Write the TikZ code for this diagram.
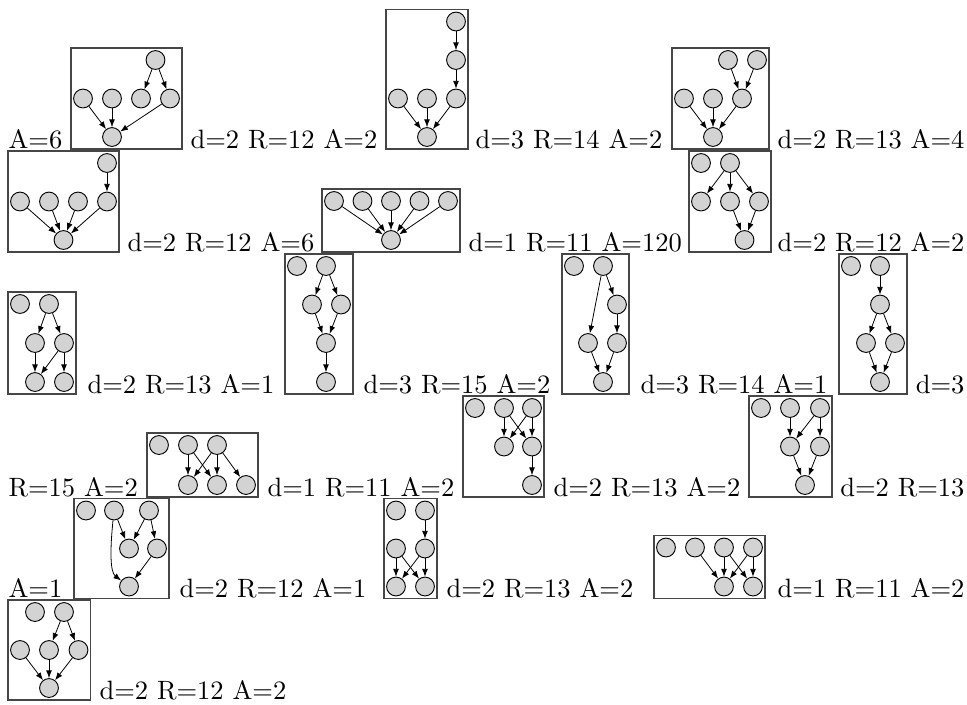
\documentclass[tikz,border=0pt]{standalone}
\usetikzlibrary{arrows.meta}
\definecolor{nodegray}{RGB}{211,211,211}
\definecolor{framegray}{RGB}{70,70,70}
\begin{document}
\begin{tikzpicture}[x=0.377pt,y=-0.377pt,
  nd/.style={circle,draw=black,fill=nodegray,line width=0.35pt,minimum size=7.1pt,inner sep=0pt},
  arr/.style={-{Latex[length=2.9pt,width=2.2pt]},line width=0.3pt},
  frame/.style={draw=framegray,line width=0.4pt},
  lbl/.style={inner sep=0pt,anchor=base west,font=\fontsize{10}{12}\selectfont},
  lble/.style={inner sep=0pt,anchor=base east,font=\fontsize{10}{12}\selectfont}]
\useasboundingbox (0,0) rectangle (967,704);
% ---------- row 1 ----------
\node[lbl] (t1) at (8,148.5) {A=6};
\draw[frame] (71,48) rectangle (182,149);
\node[nd] (b1a) at (155.5,60) {};
\node[nd] (b1b) at (83,98.5) {};
\node[nd] (b1c) at (112,98.5) {};
\node[nd] (b1d) at (141,98.5) {};
\node[nd] (b1e) at (170,98.5) {};
\node[nd] (b1f) at (112,137) {};
\draw[arr] (b1a) -- (b1d);
\draw[arr] (b1a) -- (b1e);
\draw[arr] (b1b) -- (b1f);
\draw[arr] (b1c) -- (b1f);
\draw[arr] (b1e) -- (b1f);
\node[lbl] (t2) at (190,148.5) {d=2 R=12 A=2};
\draw[frame] (386,9.5) rectangle (468,149);
\node[nd] (b2a) at (456,21.5) {};
\node[nd] (b2b) at (456,60) {};
\node[nd] (b2c) at (456,98.5) {};
\node[nd] (b2d) at (398,98.5) {};
\node[nd] (b2e) at (427,98.5) {};
\node[nd] (b2f) at (427,137) {};
\draw[arr] (b2a) -- (b2b);
\draw[arr] (b2b) -- (b2c);
\draw[arr] (b2d) -- (b2f);
\draw[arr] (b2e) -- (b2f);
\draw[arr] (b2c) -- (b2f);
\node[lbl] (t3) at (475,148.5) {d=3 R=14 A=2};
\draw[frame] (672,48) rectangle (769,149);
\node[nd] (b3a) at (728,60) {};
\node[nd] (b3b) at (757,60) {};
\node[nd] (b3c) at (684,98.5) {};
\node[nd] (b3d) at (713,98.5) {};
\node[nd] (b3e) at (742,98.5) {};
\node[nd] (b3f) at (713,137) {};
\draw[arr] (b3a) -- (b3e);
\draw[arr] (b3b) -- (b3e);
\draw[arr] (b3c) -- (b3f);
\draw[arr] (b3d) -- (b3f);
\draw[arr] (b3e) -- (b3f);
\node[lble] (t4) at (965,148.5) {d=2 R=13 A=4};
% ---------- row 2 ----------
\draw[frame] (8,151) rectangle (119,252);
\node[nd] (b4a) at (107,163) {};
\node[nd] (b4b) at (20,201.5) {};
\node[nd] (b4c) at (49,201.5) {};
\node[nd] (b4d) at (78,201.5) {};
\node[nd] (b4e) at (107,201.5) {};
\node[nd] (b4f) at (63.5,240) {};
\draw[arr] (b4a) -- (b4e);
\draw[arr] (b4b) -- (b4f);
\draw[arr] (b4c) -- (b4f);
\draw[arr] (b4d) -- (b4f);
\draw[arr] (b4e) -- (b4f);
\node[lbl] (t5) at (127,251) {d=2 R=12 A=6};
\draw[frame] (322,189) rectangle (460,252);
\node[nd] (b5a) at (334,201) {};
\node[nd] (b5b) at (362.5,201) {};
\node[nd] (b5c) at (391,201) {};
\node[nd] (b5d) at (419.5,201) {};
\node[nd] (b5e) at (448,201) {};
\node[nd] (b5f) at (391,240) {};
\draw[arr] (b5a) -- (b5f);
\draw[arr] (b5b) -- (b5f);
\draw[arr] (b5c) -- (b5f);
\draw[arr] (b5d) -- (b5f);
\draw[arr] (b5e) -- (b5f);
\node[lbl] (t6) at (468,251) {d=1 R=11 A=120};
\draw[frame] (689,151) rectangle (771,252);
\node[nd] (b6a) at (701,163) {};
\node[nd] (b6b) at (730,163) {};
\node[nd] (b6c) at (701,201.5) {};
\node[nd] (b6d) at (730,201.5) {};
\node[nd] (b6e) at (759,201.5) {};
\node[nd] (b6f) at (744.5,240) {};
\draw[arr] (b6b) -- (b6c);
\draw[arr] (b6b) -- (b6d);
\draw[arr] (b6b) -- (b6e);
\draw[arr] (b6d) -- (b6f);
\draw[arr] (b6e) -- (b6f);
\node[lble] (t7) at (965,251) {d=2 R=12 A=2};
% ---------- row 3 ----------
\draw[frame] (8,292) rectangle (76,394);
\node[nd] (b7a) at (20,304) {};
\node[nd] (b7b) at (49,304) {};
\node[nd] (b7c) at (35,343) {};
\node[nd] (b7d) at (64,343) {};
\node[nd] (b7e) at (35,382) {};
\node[nd] (b7f) at (64,382) {};
\draw[arr] (b7b) -- (b7c);
\draw[arr] (b7b) -- (b7d);
\draw[arr] (b7c) -- (b7e);
\draw[arr] (b7d) -- (b7e);
\draw[arr] (b7d) -- (b7f);
\node[lbl] (t8) at (87,393) {d=2 R=13 A=1};
\draw[frame] (285,254) rectangle (353,394);
\node[nd] (b8a) at (297,266) {};
\node[nd] (b8b) at (326,266) {};
\node[nd] (b8c) at (312,304.5) {};
\node[nd] (b8d) at (341,304.5) {};
\node[nd] (b8e) at (326,343) {};
\node[nd] (b8f) at (326,382) {};
\draw[arr] (b8b) -- (b8c);
\draw[arr] (b8b) -- (b8d);
\draw[arr] (b8c) -- (b8e);
\draw[arr] (b8d) -- (b8e);
\draw[arr] (b8e) -- (b8f);
\node[lbl] (t9) at (363,393) {d=3 R=15 A=2};
\draw[frame] (562,254) rectangle (629,394);
\node[nd] (b9a) at (574,266) {};
\node[nd] (b9b) at (603,266) {};
\node[nd] (b9c) at (617,304.5) {};
\node[nd] (b9d) at (588,343) {};
\node[nd] (b9e) at (617,343) {};
\node[nd] (b9f) at (603,382) {};
\draw[arr] (b9b) -- (b9d);
\draw[arr] (b9b) -- (b9c);
\draw[arr] (b9c) -- (b9e);
\draw[arr] (b9d) -- (b9f);
\draw[arr] (b9e) -- (b9f);
\node[lbl] (t10) at (640,393) {d=3 R=14 A=1};
\draw[frame] (839,254) rectangle (907,394);
\node[nd] (b10a) at (851,266) {};
\node[nd] (b10b) at (880,266) {};
\node[nd] (b10c) at (880,304.5) {};
\node[nd] (b10d) at (866,343) {};
\node[nd] (b10e) at (895,343) {};
\node[nd] (b10f) at (880,382) {};
\draw[arr] (b10b) -- (b10c);
\draw[arr] (b10c) -- (b10d);
\draw[arr] (b10c) -- (b10e);
\draw[arr] (b10d) -- (b10f);
\draw[arr] (b10e) -- (b10f);
\node[lble] (t11) at (965,393) {d=3};
% ---------- row 4 ----------
\node[lbl] (t12) at (8,496) {R=15 A=2};
\draw[frame] (147,433) rectangle (258,497);
\node[nd] (b11a) at (159,445) {};
\node[nd] (b11b) at (188,445) {};
\node[nd] (b11c) at (217,445) {};
\node[nd] (b11d) at (188,485) {};
\node[nd] (b11e) at (217,485) {};
\node[nd] (b11f) at (246,485) {};
\draw[arr] (b11b) -- (b11d);
\draw[arr] (b11b) -- (b11e);
\draw[arr] (b11c) -- (b11d);
\draw[arr] (b11c) -- (b11e);
\draw[arr] (b11c) -- (b11f);
\node[lbl] (t13) at (267,496) {d=1 R=11 A=2};
\draw[frame] (463,396) rectangle (544,497);
\node[nd] (b12a) at (475,408) {};
\node[nd] (b12b) at (504,408) {};
\node[nd] (b12c) at (532,408) {};
\node[nd] (b12d) at (504,446.5) {};
\node[nd] (b12e) at (532,446.5) {};
\node[nd] (b12f) at (532,485) {};
\draw[arr] (b12b) -- (b12d);
\draw[arr] (b12b) -- (b12e);
\draw[arr] (b12c) -- (b12d);
\draw[arr] (b12c) -- (b12e);
\draw[arr] (b12e) -- (b12f);
\node[lbl] (t14) at (553,496) {d=2 R=13 A=2};
\draw[frame] (749,396) rectangle (832,497);
\node[nd] (b13a) at (761,408) {};
\node[nd] (b13b) at (790,408) {};
\node[nd] (b13c) at (820,408) {};
\node[nd] (b13d) at (790,446.5) {};
\node[nd] (b13e) at (820,446.5) {};
\node[nd] (b13f) at (805,485) {};
\draw[arr] (b13b) -- (b13d);
\draw[arr] (b13c) -- (b13d);
\draw[arr] (b13c) -- (b13e);
\draw[arr] (b13d) -- (b13f);
\draw[arr] (b13e) -- (b13f);
\node[lble] (t15) at (965,496) {d=2 R=13};
% ---------- row 5 ----------
\node[lbl] (t16) at (8,597.5) {A=1};
\draw[frame] (74,498.5) rectangle (169,598.5);
\node[nd] (b14a) at (86,510.5) {};
\node[nd] (b14b) at (114,510.5) {};
\node[nd] (b14c) at (149,510.5) {};
\node[nd] (b14d) at (129,548.5) {};
\node[nd] (b14e) at (157,548.5) {};
\node[nd] (b14f) at (129,586.5) {};
\draw[arr] (b14b) -- (b14d);
\draw[arr] (b14c) -- (b14d);
\draw[arr] (b14c) -- (b14e);
\draw[arr] (b14b) .. controls (110,550) and (110,572) .. (b14f);
\draw[arr] (b14e) -- (b14f);
\node[lbl] (t17) at (179,597.5) {d=2 R=12 A=1};
\draw[frame] (384,498.5) rectangle (437,598.5);
\node[nd] (b15a) at (396,510.5) {};
\node[nd] (b15b) at (425,510.5) {};
\node[nd] (b15c) at (396,548.5) {};
\node[nd] (b15d) at (425,548.5) {};
\node[nd] (b15e) at (396,586.5) {};
\node[nd] (b15f) at (425,586.5) {};
\draw[arr] (b15b) -- (b15d);
\draw[arr] (b15c) -- (b15e);
\draw[arr] (b15c) -- (b15f);
\draw[arr] (b15d) -- (b15e);
\draw[arr] (b15d) -- (b15f);
\node[lbl] (t18) at (446,597.5) {d=2 R=13 A=2};
\draw[frame] (654,535.5) rectangle (765,598.5);
\node[nd] (b16a) at (666,547.5) {};
\node[nd] (b16b) at (695,547.5) {};
\node[nd] (b16c) at (724,547.5) {};
\node[nd] (b16d) at (753,547.5) {};
\node[nd] (b16e) at (724,586.5) {};
\node[nd] (b16f) at (753,586.5) {};
\draw[arr] (b16b) -- (b16e);
\draw[arr] (b16c) -- (b16e);
\draw[arr] (b16c) -- (b16f);
\draw[arr] (b16d) -- (b16e);
\draw[arr] (b16d) -- (b16f);
\node[lble] (t19) at (965,597.5) {d=1 R=11 A=2};
% ---------- row 6 ----------
\draw[frame] (8,600) rectangle (90.5,700);
\node[nd] (b17a) at (35,612) {};
\node[nd] (b17b) at (64,612) {};
\node[nd] (b17c) at (20,650) {};
\node[nd] (b17d) at (49,650) {};
\node[nd] (b17e) at (78.5,650) {};
\node[nd] (b17f) at (49,688) {};
\draw[arr] (b17b) -- (b17d);
\draw[arr] (b17b) -- (b17e);
\draw[arr] (b17c) -- (b17f);
\draw[arr] (b17d) -- (b17f);
\draw[arr] (b17e) -- (b17f);
\node[lbl] (t20) at (99,699) {d=2 R=12 A=2};
\end{tikzpicture}
\end{document}
